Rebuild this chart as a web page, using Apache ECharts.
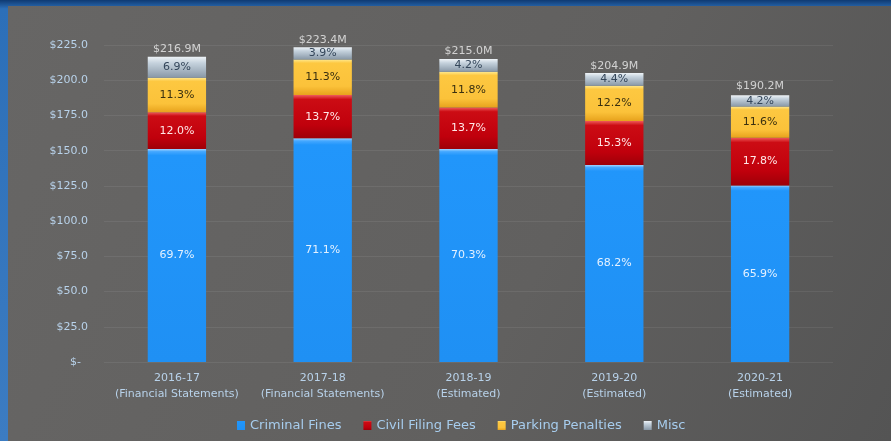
<!DOCTYPE html>
<html>
<head>
<meta charset="utf-8">
<script src="https://cdn.jsdelivr.net/npm/echarts@6/dist/echarts.min.js"></script>
<style>
  html, body { margin: 0; padding: 0; background: #2f6fb4; }
  #chart { width: 891px; height: 441px; }
</style>
</head>
<body>
<div id="chart"></div>
<script>
// Fiscal years shown on the x axis
const categories = [
  '2016-17\n(Financial Statements)',
  '2017-18\n(Financial Statements)',
  '2018-19\n(Estimated)',
  '2019-20\n(Estimated)',
  '2020-21\n(Estimated)'
];
// Total revenue per year, $ millions
const totals = [216.9, 223.4, 215.0, 204.9, 190.2];
// Share of each year's total, percent
const criminalPct = [69.7, 71.1, 70.3, 68.2, 65.9];
const civilPct    = [12.0, 13.7, 13.7, 15.3, 17.8];
const parkingPct  = [11.3, 11.3, 11.8, 12.2, 11.6];
const miscPct     = [6.9, 3.9, 4.2, 4.4, 4.2];
// Y axis ticks
const yTicks = [0, 25, 50, 75, 100, 125, 150, 175, 200, 225];

const FONT = 'DejaVu Sans';
const toDollars = pct => pct.map((p, i) => +(totals[i] * p / 100).toFixed(2));

function grad(stops) {
  return new echarts.graphic.LinearGradient(0, 0, 0, 1,
    stops.map(s => ({ offset: s[0], color: s[1] })));
}

function segment(name, pct, fill, labelColor) {
  const values = toDollars(pct);
  return {
    name: name,
    type: 'bar',
    stack: 'total',
    barWidth: '40%',
    data: values.map((v, i) => ({ value: v, pct: pct[i] })),
    itemStyle: { color: fill },
    label: {
      show: true,
      position: 'inside',
      fontFamily: FONT,
      fontSize: 11,
      color: labelColor,
      formatter: p => p.data.pct.toFixed(1) + '%'
    },
    emphasis: { disabled: true }
  };
}

const chart = echarts.init(document.getElementById('chart'), null, { renderer: 'canvas' });

chart.setOption({
  animation: false,
  backgroundColor: 'transparent',
  graphic: [
    {
      type: 'rect', silent: true, z: -10,
      shape: { x: 0, y: 0, width: 891, height: 441 },
      style: { fill: grad([[0, '#0f3a72'], [0.02, '#2c6fb8'], [1, '#3c7cc2']]) }
    },
    {
      type: 'rect', silent: true, z: -9,
      shape: { x: 8, y: 6, width: 883, height: 435 },
      style: {
        fill: new echarts.graphic.LinearGradient(0, 0, 1, 1, [
          { offset: 0, color: '#676665' },
          { offset: 0.6, color: '#61605f' },
          { offset: 1, color: '#545454' }
        ])
      }
    }
  ],
  grid: { left: 104, right: 58, top: 45, bottom: 79, containLabel: false },
  legend: {
    bottom: 4,
    left: 232,
    itemWidth: 8,
    itemHeight: 9,
    itemGap: 22,
    icon: 'rect',
    textStyle: { color: '#a7cdee', fontFamily: FONT, fontSize: 13 },
    data: ['Criminal Fines', 'Civil Filing Fees', 'Parking Penalties', 'Misc']
  },
  xAxis: {
    type: 'category',
    data: categories,
    axisLine: { show: false },
    axisTick: { show: false },
    axisLabel: {
      interval: 0,
      color: '#b8d2ea',
      fontFamily: FONT,
      fontSize: 11,
      lineHeight: 16,
      margin: 8
    }
  },
  yAxis: {
    type: 'value',
    min: yTicks[0],
    max: yTicks[yTicks.length - 1],
    interval: 25,
    axisLine: { show: false },
    axisTick: { show: false },
    splitLine: { lineStyle: { color: 'rgba(255,255,255,0.07)', width: 1 } },
    axisLabel: {
      color: '#b8d2ea',
      fontFamily: FONT,
      fontSize: 11,
      margin: 16,
      formatter: v => v === 0 ? '$-  ' : '$' + v.toFixed(1)
    }
  },
  series: [
    segment('Criminal Fines', criminalPct,
      grad([[0, '#9fd2ff'], [0.012, '#45a8ff'], [0.03, '#2196fb'], [1, '#1f90f4']]), '#e4f1ff'),
    segment('Civil Filing Fees', civilPct,
      grad([[0, '#ee5a5a'], [0.1, '#cc0c14'], [0.7, '#c0000c'], [1, '#9e0008']]), '#ffe8e8'),
    segment('Parking Penalties', parkingPct,
      grad([[0, '#ffe88c'], [0.1, '#fdc841'], [0.75, '#fbc23a'], [1, '#e7a21c']]), '#3a3010'),
    segment('Misc', miscPct,
      grad([[0, '#eef3f7'], [0.3, '#c5d2dd'], [1, '#8797a6']]), '#34465a'),
    {
      name: 'Total',
      type: 'scatter',
      data: totals,
      symbolSize: 0,
      silent: true,
      label: {
        show: true,
        position: 'top',
        distance: 2,
        fontFamily: FONT,
        fontSize: 11,
        color: '#eeeeee',
        formatter: p => '$' + p.value.toFixed(1) + 'M'
      }
    }
  ]
});
</script>
</body>
</html>
